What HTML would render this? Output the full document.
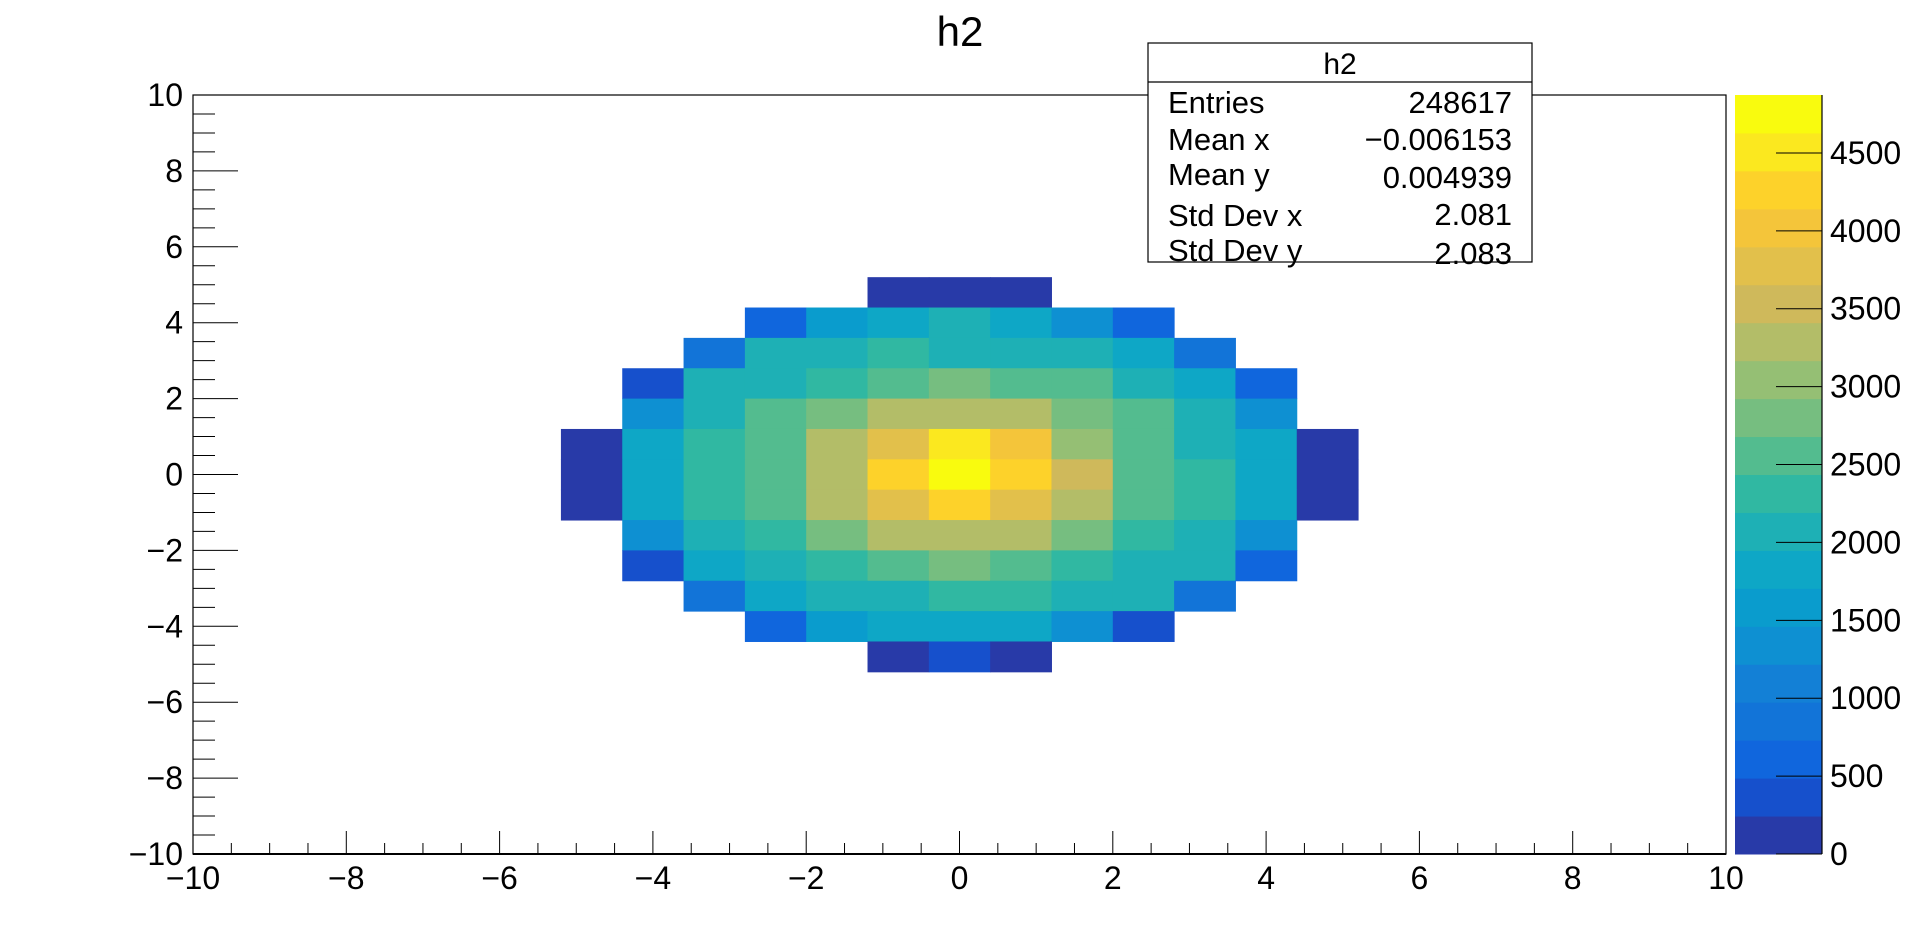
<!DOCTYPE html>
<html><head><meta charset="utf-8"><style>
html,body{margin:0;padding:0;background:#fff;}
svg{display:block;font-family:"Liberation Sans",sans-serif;}
</style></head><body>
<svg id="chart" width="1918" height="950" viewBox="0 0 1918 950">
<text x="960" y="46" font-size="42" text-anchor="middle">h2</text>
<g id="cells"></g>
<g id="axes"></g>
<rect x="193" y="95" width="1533" height="759" fill="none" stroke="#000" stroke-width="1.2"/>
<g id="palette"></g>
<g>
<rect x="1148" y="43" width="384" height="219" fill="#fff" stroke="#000" stroke-width="1.2"/>
<line x1="1148" y1="82" x2="1532" y2="82" stroke="#000" stroke-width="1.2"/>
<text x="1340" y="74" font-size="30" text-anchor="middle">h2</text>
<g font-size="31">
<text x="1168" y="113">Entries</text><text x="1512" y="113" text-anchor="end">248617</text>
<text x="1168" y="150">Mean x</text><text x="1512" y="150" text-anchor="end">−0.006153</text>
<text x="1168" y="185">Mean y</text><text x="1512" y="188" text-anchor="end">0.004939</text>
<text x="1168" y="226">Std Dev x</text><text x="1512" y="225" text-anchor="end">2.081</text>
<text x="1168" y="261">Std Dev y</text><text x="1512" y="264" text-anchor="end">2.083</text>
</g></g>
</svg>
<script>
const xTicks=[-10,-8,-6,-4,-2,0,2,4,6,8,10];
const yTicks=[-10,-8,-6,-4,-2,0,2,4,6,8,10];
const zTicks=[0,500,1000,1500,2000,2500,3000,3500,4000,4500];
const zMax=4872;
const binStart=-10, binWidth=0.8, firstCol=6;
const rowBins=[18,17,16,15,14,13,12,11,10,9,8,7,6];
const row18=[0,0,0,0,0,120,120,120];
const row17=[0,0,0,610,1580,1830,2070,1830,1340,610];
const row16=[0,0,850,2070,2070,2310,2070,2070,2070,1830,850];
const row15=[0,370,2070,2070,2310,2560,2800,2560,2560,2070,1830,610];
const row14=[0,1340,2070,2560,2800,3290,3290,3290,2800,2560,2070,1340];
const row13=[120,1830,2310,2560,3290,3780,4500,4020,3050,2560,2070,1830,120];
const row12=[120,1830,2310,2560,3290,4260,4860,4260,3530,2560,2310,1830,120];
const row11=[120,1830,2310,2560,3290,3780,4260,3780,3290,2560,2310,1830,120];
const row10=[0,1340,2070,2310,2800,3290,3290,3290,2800,2310,2070,1340];
const row9=[0,370,1830,2070,2310,2560,2800,2560,2310,2070,2070,610];
const row8=[0,0,850,1830,2070,2070,2310,2310,2070,2070,850];
const row7=[0,0,0,610,1580,1830,1830,1830,1340,370];
const row6=[0,0,0,0,0,120,370,120];
const rows=[row18,row17,row16,row15,row14,row13,row12,row11,row10,row9,row8,row7,row6];
const palette=["#283aa8","#1650cc","#1066dd","#1274d8","#1380d6","#0e90d2","#0a9ccd","#0ea7c6","#1eb0b5","#30b8a2","#53bc8f","#76be80","#95bf74","#b3bd68","#cfb95b","#e2c04b","#f4c53a","#fdd22a","#fbe81f","#f9fb0e"];
const X0=193,X1=1726,Y0=854,Y1=95;
const sx=v=>X0+(v+10)/20*(X1-X0);
const sy=v=>Y0-(v+10)/20*(Y0-Y1);
const PT=95,PB=854,PL=1735,PR=1822;
const sz=v=>PB-v/zMax*(PB-PT);
const NS="http://www.w3.org/2000/svg";
function mk(tag,attrs,parent){const e=document.createElementNS(NS,tag);for(const k in attrs)e.setAttribute(k,attrs[k]);parent.appendChild(e);return e;}
const colorOf=v=>palette[Math.min(19,Math.floor(v/zMax*20))];
const cells=document.getElementById('cells');
rows.forEach((row,ri)=>{const yb=rowBins[ri];row.forEach((v,ci)=>{if(v<=0)return;const xb=firstCol+ci;
 const xa=binStart+xb*binWidth, ya=binStart+yb*binWidth;
 const r=mk('rect',{x:sx(xa),y:sy(ya+binWidth),width:sx(xa+binWidth)-sx(xa)+0.5,height:sy(ya)-sy(ya+binWidth)+0.5,fill:colorOf(v)},cells);
 
 });});
const axes=document.getElementById('axes');
mk('line',{x1:X0,y1:Y0,x2:X1,y2:Y0,stroke:'#000','stroke-width':2},axes);
for(let v=-10;v<=10.001;v+=0.5){const major=Math.abs(v/2-Math.round(v/2))<1e-6;
 mk('line',{x1:sx(v),x2:sx(v),y1:Y0,y2:Y0-(major?23:11),stroke:'#000','stroke-width':1},axes);
 mk('line',{y1:sy(v),y2:sy(v),x1:X0,x2:X0+(major?45:22),stroke:'#000','stroke-width':1},axes);}
xTicks.forEach(v=>{const t=mk('text',{x:sx(v),y:889,'font-size':32,'text-anchor':'middle'},axes);t.textContent=(v<0?'−':'')+Math.abs(v);
 
 });
yTicks.forEach(v=>{const t=mk('text',{x:183,y:sy(v)+11,'font-size':32,'text-anchor':'end'},axes);t.textContent=(v<0?'−':'')+Math.abs(v);
 
 });
const pal=document.getElementById('palette');
palette.forEach((c,i)=>{const a=i*zMax/20,b=(i+1)*zMax/20;
 const r=mk('rect',{x:PL,y:sz(b),width:PR-PL,height:sz(a)-sz(b)+0.5,fill:c},pal);
 
 });
mk('line',{x1:PR,y1:PT,x2:PR,y2:PB,stroke:'#000','stroke-width':1.2},pal);
zTicks.forEach(v=>{mk('line',{x1:PR-46,x2:PR,y1:sz(v),y2:sz(v),stroke:'#000','stroke-width':1},pal);
 const t=mk('text',{x:PR+8,y:sz(v)+11,'font-size':32},pal);t.textContent=v;
 
 });
</script>
</body></html>
